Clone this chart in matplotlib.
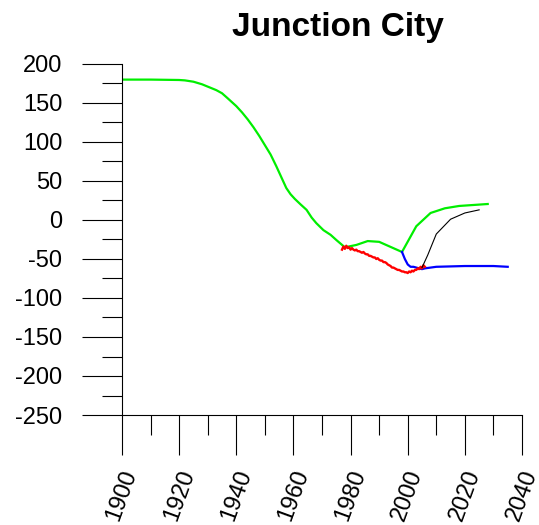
import matplotlib
matplotlib.use("Agg")
import matplotlib.pyplot as plt
from matplotlib.ticker import MultipleLocator

plt.rcParams['font.family'] = ['Liberation Sans', 'DejaVu Sans']
plt.rcParams['axes.unicode_minus'] = False

# historical / trend curve
green_years = [1900, 1910, 1920, 1922, 1925, 1928, 1930, 1933, 1935, 1937,
               1940, 1942, 1944, 1946, 1948, 1950, 1952, 1954, 1956, 1957.5,
               1959, 1960.5, 1962.5, 1964.6, 1966.4, 1968, 1970.5, 1973, 1975,
               1978, 1982, 1986, 1990, 1998, 2003, 2008, 2013, 2018, 2028]
green_vals = [180, 180, 179.5, 179, 177.3, 174, 171, 166.5, 162.5, 156,
              146, 138, 129, 119, 108, 96, 84, 69, 53, 41,
              33, 27, 20, 13, 3, -4, -13, -19, -25.6,
              -35, -32, -27, -28, -41, -8, 9, 15, 18, 20.5]

# measured series
red_years = [1977.0, 1977.5, 1978.0, 1978.5, 1979.0, 1979.5, 1980.0, 1980.5,
             1981.0, 1981.5, 1982.0, 1982.5, 1983.0, 1983.5, 1984.0, 1984.5,
             1985.0, 1985.5, 1986.0, 1986.5, 1987.0, 1987.5, 1988.0, 1988.5,
             1989.0, 1989.5, 1990.0, 1990.5, 1991.0, 1991.5, 1992.0, 1992.5,
             1993.0, 1993.5, 1994.0, 1994.5, 1995.0, 1995.5, 1996.0, 1996.5,
             1997.0, 1997.5, 1998.0, 1998.5, 1999.0, 1999.5, 2000.0, 2000.5,
             2001.0, 2001.5, 2002.0, 2002.5, 2003.0, 2003.5, 2004.0, 2004.5,
             2005.0, 2005.5, 2006.0]
red_vals = [-38, -34, -37, -33, -36, -35, -38, -36,
            -38, -39, -38, -40, -40, -41, -42, -41,
            -43, -44, -44, -46, -46, -47, -48, -48,
            -50, -49, -51, -52, -52, -54, -54, -55,
            -57, -58, -59, -61, -61, -62, -63, -64,
            -64, -65, -66, -66, -67, -67, -68, -66,
            -67, -65, -66, -64, -64, -62, -63, -60,
            -62, -58, -60]

# projection without recovery
blue_years = [1998, 1999, 2000, 2001, 2002, 2003, 2004, 2005, 2006, 2008,
              2010, 2015, 2020, 2025, 2030, 2035]
blue_vals = [-41, -50, -57, -60, -60, -61, -62, -63, -62, -61,
             -60, -59.5, -59, -59, -59, -60]

# projection with recovery
black_years = [2005, 2007, 2010, 2015, 2020, 2025]
black_vals = [-61, -45, -18, 1, 9, 13]

fig = plt.figure(figsize=(5.39, 5.25), dpi=100)
ax = fig.add_axes([122 / 539, 1 - 415 / 525, 400 / 539, 351 / 525])

ax.plot(green_years, green_vals, color='#00ee00', lw=1.6)
ax.plot(blue_years, blue_vals, color='#0000ff', lw=1.6)
ax.plot(red_years, red_vals, color='#ff0000', lw=1.7)
ax.plot(black_years, black_vals, color='black', lw=0.8)

ax.set_xlim(1900, 2040)
ax.set_ylim(-250, 200)
ax.xaxis.set_major_locator(MultipleLocator(20))
ax.xaxis.set_minor_locator(MultipleLocator(10))
ax.yaxis.set_major_locator(MultipleLocator(50))
ax.yaxis.set_minor_locator(MultipleLocator(25))

for side in ('top', 'right'):
    ax.spines[side].set_visible(False)
for side in ('left', 'bottom'):
    ax.spines[side].set_linewidth(0.8)

ax.tick_params(which='major', direction='out', length=29, width=0.8)
ax.tick_params(which='minor', direction='out', length=14.5, width=0.8)
ax.tick_params(axis='y', which='major', labelsize=17, pad=14)
ax.tick_params(axis='x', which='major', labelsize=17, pad=8)

for lbl in ax.get_xticklabels():
    lbl.set_rotation(70)
    lbl.set_ha('center')
    lbl.set_va('top')

fig.text(338 / 539, 1 - 36 / 525, 'Junction City', fontsize=24,
         fontweight='bold', ha='center', va='baseline')

fig.savefig('out.png', dpi=100)
